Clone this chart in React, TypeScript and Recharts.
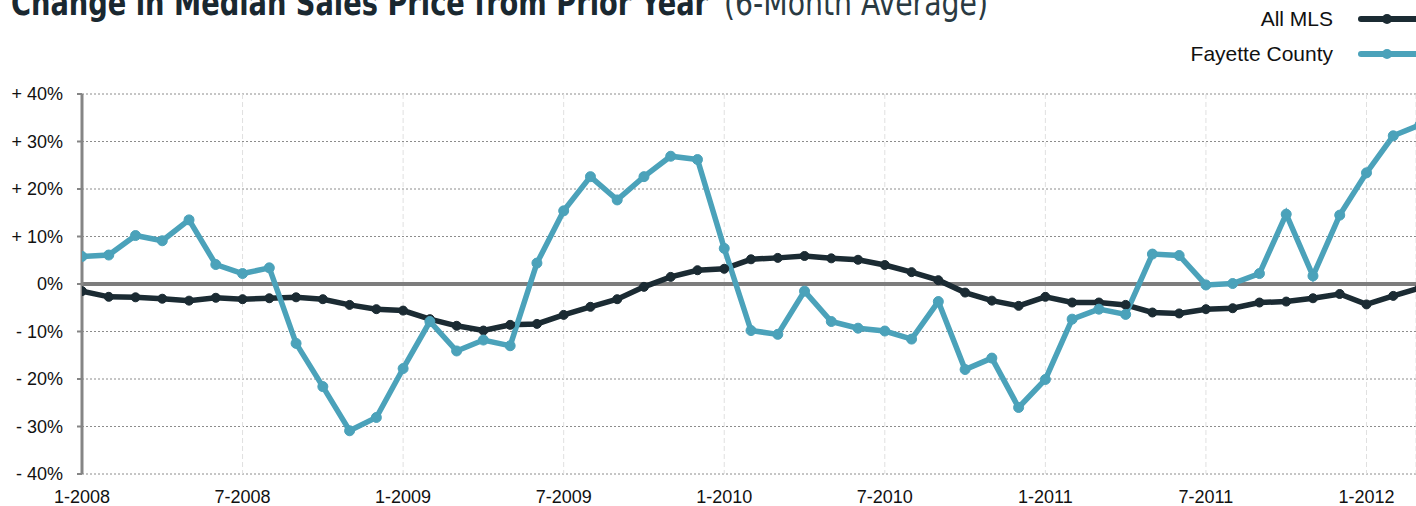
import React from "react";
import {
  LineChart,
  Line,
  XAxis,
  YAxis,
  CartesianGrid,
  ReferenceLine,
} from "recharts";

// Monthly series, Jan 2008 (index 0) .. Mar 2012 (index 50)
const allMls: number[] = [
  -1.5, -2.7, -2.8, -3.1, -3.5, -2.9, -3.2, -3.0, -2.8, -3.2,
  -4.4, -5.3, -5.6, -7.4, -8.8, -9.8, -8.6, -8.4, -6.5, -4.8,
  -3.2, -0.6, 1.5, 2.9, 3.2, 5.2, 5.5, 5.9, 5.4, 5.1,
  4.0, 2.5, 0.8, -1.8, -3.5, -4.6, -2.7, -3.9, -3.9, -4.4,
  -6.0, -6.2, -5.3, -5.1, -3.9, -3.7, -3.0, -2.1, -4.3, -2.5,
  -0.8,
];

const fayette: number[] = [
  5.8, 6.1, 10.2, 9.1, 13.5, 4.1, 2.2, 3.4, -12.5, -21.6,
  -30.9, -28.1, -17.8, -7.9, -14.1, -11.8, -13.0, 4.4, 15.4, 22.6,
  17.7, 22.6, 26.9, 26.2, 7.5, -9.8, -10.6, -1.5, -7.9, -9.3,
  -9.9, -11.6, -3.7, -18.0, -15.6, -26.0, -20.1, -7.4, -5.3, -6.4,
  6.3, 6.0, -0.2, 0.1, 2.2, 14.7, 1.7, 14.5, 23.4, 31.2,
  33.5,
];

const xTickPositions: number[] = [0, 6, 12, 18, 24, 30, 36, 42, 48];
const xTickLabels: string[] = [
  "1-2008", "7-2008", "1-2009", "7-2009", "1-2010",
  "7-2010", "1-2011", "7-2011", "1-2012",
];
const yTicks: number[] = [-40, -30, -20, -10, 0, 10, 20, 30, 40];
const yTickLabels: string[] = [
  "- 40%", "- 30%", "- 20%", "- 10%", "0%", "+ 10%", "+ 20%", "+ 30%", "+ 40%",
];

const seriesNames = { allMls: "All MLS", fayette: "Fayette County" };

const DARK = "#1b2b33";
const TEAL = "#4ba2ba";
const FONT = "'Liberation Sans', Arial, Helvetica, sans-serif";
const TITLE_FONT =
  "'Liberation Sans Narrow', 'DejaVu Sans Condensed', 'Liberation Sans', Arial, sans-serif";

const data = allMls.map((v, i) => ({ m: i, allMls: v, fayette: fayette[i] }));

const LegendItem = ({ label, color, top }: { label: string; color: string; top: number }) => (
  <div
    style={{
      position: "absolute",
      right: 0,
      top: top - 15,
      height: 30,
      display: "flex",
      alignItems: "center",
      fontFamily: FONT,
      fontSize: 21,
      color: "#111",
    }}
  >
    <span style={{ marginRight: 25 }}>{label}</span>
    <svg width={58} height={12} style={{ display: "block" }}>
      <line x1={3} y1={6} x2={57} y2={6} stroke={color} strokeWidth={6} strokeLinecap="round" />
      <circle cx={29} cy={6} r={5} fill={color} />
    </svg>
  </div>
);

export default function App() {
  return (
    <div
      style={{
        position: "absolute",
        left: 0,
        top: 0,
        width: 1416,
        height: 506,
        overflow: "hidden",
        background: "#fff",
      }}
    >
      <svg width={1416} height={30} style={{ position: "absolute", left: 0, top: 0 }}>
        <text
          x={11}
          y={15}
          fontFamily={TITLE_FONT}
          fontWeight="bold"
          fontSize={35}
          fill="#1a2830"
          textLength={697}
          lengthAdjust="spacingAndGlyphs"
        >
          Change in Median Sales Price from Prior Year
        </text>
        <text
          x={724}
          y={15}
          fontFamily={TITLE_FONT}
          fontSize={35}
          fill="#2a3a42"
          textLength={264}
          lengthAdjust="spacingAndGlyphs"
        >
          (6-Month Average)
        </text>
      </svg>

      <LegendItem label={seriesNames.allMls} color={DARK} top={19} />
      <LegendItem label={seriesNames.fayette} color={TEAL} top={54} />

      <LineChart
        width={1416}
        height={506}
        data={data}
        margin={{ top: 94, right: 0, bottom: 0, left: 0 }}
        style={{ position: "absolute", left: 0, top: 0 }}
      >
        <CartesianGrid vertical={false} horizontal={true} stroke="#8c8c8c" strokeDasharray="2 2" />
        <CartesianGrid horizontal={false} vertical={true} stroke="#e0e0e0" strokeDasharray="5 3" />
        <XAxis
          type="number"
          dataKey="m"
          domain={[0, 49.85]}
          allowDataOverflow
          ticks={xTickPositions}
          tickFormatter={(v: number) => xTickLabels[xTickPositions.indexOf(v)] ?? ""}
          axisLine={false}
          tickLine={false}
          tickSize={6}
          tickMargin={10}
          height={32}
          interval={0}
          tick={{ fill: "#111", fontSize: 18, fontFamily: FONT }}
        />
        <YAxis
          type="number"
          domain={[-40, 40]}
          ticks={yTicks}
          interval={0}
          width={82}
          tickFormatter={(v: number) => yTickLabels[yTicks.indexOf(v)] ?? ""}
          axisLine={{ stroke: "#858585", strokeWidth: 3 }}
          tickLine={{ stroke: "#858585", strokeWidth: 2 }}
          tickSize={5}
          tickMargin={14}
          tick={{ fill: "#111", fontSize: 18, fontFamily: FONT }}
        />
        <ReferenceLine y={0} stroke="#7d7d7d" strokeWidth={4} />
        <Line
          type="linear"
          dataKey="allMls"
          name={seriesNames.allMls}
          stroke={DARK}
          strokeWidth={5.5}
          dot={{ r: 4.5, fill: DARK, stroke: DARK, strokeWidth: 1 }}
          activeDot={false}
          isAnimationActive={false}
        />
        <Line
          type="linear"
          dataKey="fayette"
          name={seriesNames.fayette}
          stroke={TEAL}
          strokeWidth={5.5}
          dot={{ r: 5, fill: TEAL, stroke: TEAL, strokeWidth: 1 }}
          activeDot={false}
          isAnimationActive={false}
        />
      </LineChart>
    </div>
  );
}
